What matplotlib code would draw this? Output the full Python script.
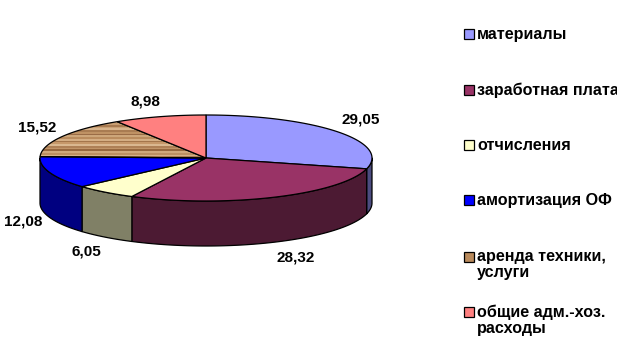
import matplotlib
matplotlib.use("Agg")
import matplotlib.pyplot as plt
import numpy as np
from matplotlib.colors import to_rgb
from matplotlib.patches import Polygon, Rectangle

categories = ["материалы", "заработная плата", "отчисления", "амортизация ОФ",
              "аренда техники,\nуслуги", "общие адм.-хоз.\nрасходы"]
values = [29.05, 28.32, 6.05, 12.08, 15.52, 8.98]
value_labels = ["29,05", "28,32", "6,05", "12,08", "15,52", "8,98"]
top_colors = ["#9999ff", "#993366", "#ffffcc", "#0000ff", "#b98a5c", "#ff8080"]
side_colors = ["#4c4c80", "#4c1a33", "#808066", "#000080", "#5c4530", "#804040"]
wood = ["#c49a6c", "#b5875a", "#d2ab80", "#c89e72", "#a87a50", "#c9a074",
        "#d8b48c", "#a97c52", "#bf9264", "#9a6c46", "#cda67a", "#ba8c5e",
        "#d4ae84", "#a4764c", "#c6986a", "#dab890", "#ae8056", "#c09468",
        "#96683f", "#cfa87c", "#bd9062", "#d6b288", "#a67850", "#c4986c"]

# pie geometry in pixels
cx, cy, rx, ry, depth = 206, 158, 166, 43, 45
label_pos = [(361, 119), (296, 257), (86, 252), (23, 222), (37, 127), (145, 101)]
legend_y = [34, 90, 145, 200, 257, 312]

plt.rcParams["font.family"] = ["Liberation Sans", "DejaVu Sans"]
fig = plt.figure(figsize=(6.24, 3.61), dpi=100)
ax = fig.add_axes([0, 0, 1, 1])
ax.axis("off")


def arc(a0, a1, dy=0):
    # angles are clockwise from 12 o'clock, in degrees
    t = np.radians(np.linspace(a0, a1, max(int(abs(a1 - a0)) * 2, 2)))
    return np.column_stack([cx + rx * np.sin(t), cy - ry * np.cos(t) + dy])


edges = np.concatenate([[0], np.cumsum(values) / np.sum(values) * 360])

# walls: only the front half of the rim shows
for i in range(len(values)):
    a0, a1 = max(edges[i], 90), min(edges[i + 1], 270)
    if a1 <= a0:
        continue
    pts = np.vstack([arc(a0, a1), arc(a0, a1, depth)[::-1]])
    ax.add_patch(Polygon(pts, closed=True, fc=side_colors[i], ec="black", lw=0.9, joinstyle="round"))

# top faces
for i in range(len(values)):
    pts = np.vstack([[cx, cy], arc(edges[i], edges[i + 1])])
    if i == 4:
        # wood fill for the rental slice, stripes clipped to the slice
        clip = Polygon(pts, closed=True, transform=ax.transData, fc="none", ec="none")
        ax.add_patch(clip)
        stripes = np.array([[to_rgb(c)] for c in wood])
        im = ax.imshow(stripes, extent=(30, 210, 160, 118), aspect="auto",
                       interpolation="nearest", zorder=1)
        im.set_clip_path(clip)
        ax.add_patch(Polygon(pts, closed=True, fc="none", ec="black", lw=0.9, zorder=2))
    else:
        ax.add_patch(Polygon(pts, closed=True, fc=top_colors[i], ec="black", lw=0.9, zorder=2))

for (x, y), s in zip(label_pos, value_labels):
    ax.text(x, y, s, ha="center", va="center", fontsize=11, fontweight="bold", color="black")

# legend drawn by hand, the long label gets cut off at the right
legend_clip = Rectangle((0, 0), 617, 361, transform=ax.transData)
for i, (y, name) in enumerate(zip(legend_y, categories)):
    ax.add_patch(Rectangle((464, y - 5), 10, 10, fc=top_colors[i], ec="black", lw=0.9, zorder=3))
    t = ax.text(477, y - 7.5, name, ha="left", va="top", fontsize=11.6, fontweight="bold",
                linespacing=1.05, color="black", clip_on=True)
    t.set_clip_path(legend_clip)

ax.set_xlim(0, 624)
ax.set_ylim(361, 0)
fig.savefig("out.png", dpi=100, facecolor="white")
